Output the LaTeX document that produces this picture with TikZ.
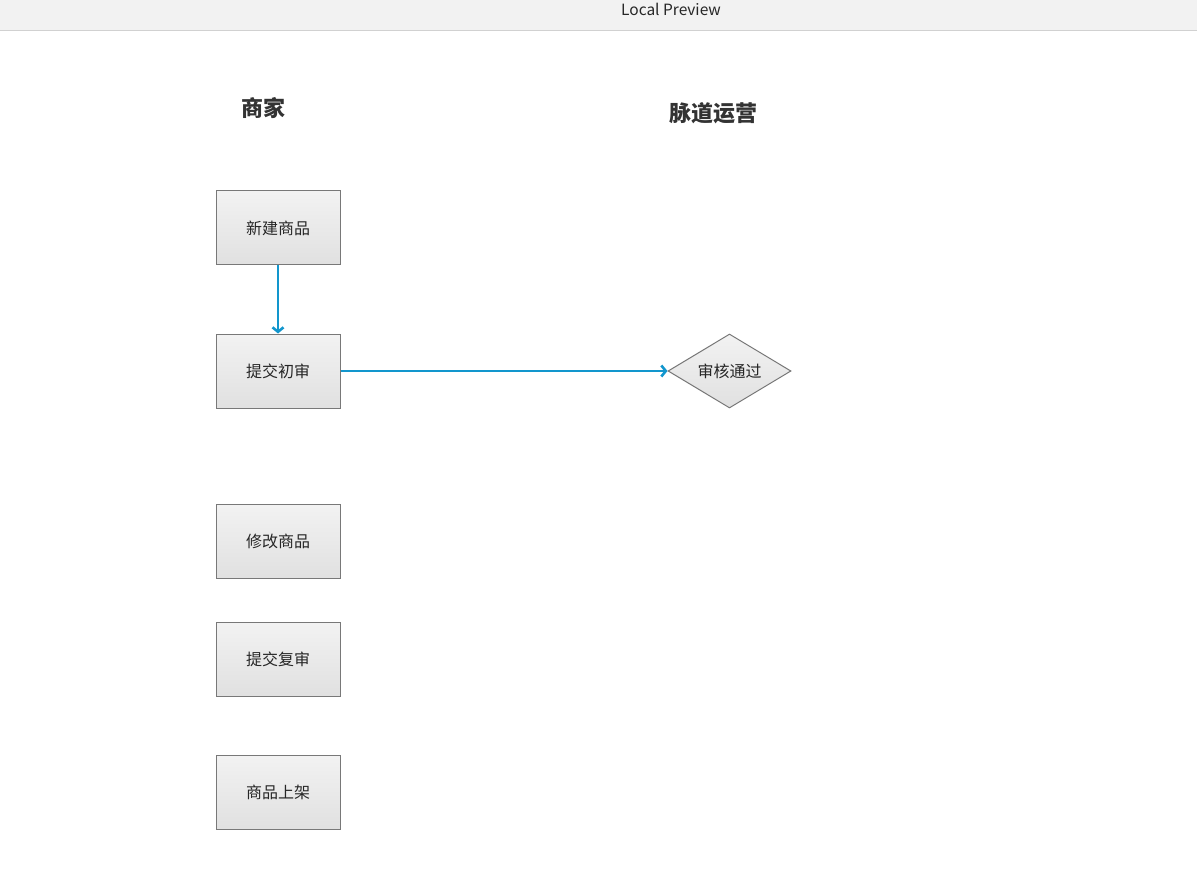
\documentclass[tikz,border=0pt]{standalone}
\usepackage{fontspec}
\setmainfont{Noto Sans CJK SC}
\usetikzlibrary{arrows.meta}
\usetikzlibrary{shapes.geometric}
\definecolor{flecha}{RGB}{18,150,205}
\definecolor{borde}{RGB}{120,120,120}
\definecolor{barra}{RGB}{242,242,242}
\tikzset{
	caja/.style={draw=borde, line width=1pt, minimum width=124pt, minimum height=74pt,
		top color=white!95!black, bottom color=white!88!black, inner sep=0pt,
		font=\fontsize{16pt}{18pt}\selectfont, text=black!85},
	rombo/.style={diamond, draw=borde, line width=1pt, minimum width=123pt, minimum height=74pt,
		aspect=1.66, inner sep=0pt, top color=white!95!black, bottom color=white!88!black,
		font=\fontsize{16pt}{18pt}\selectfont, text=black!85},
	titulo/.style={font=\fontsize{22pt}{24pt}\selectfont\bfseries, text=black!80},
	flujo/.style={draw=flecha, line width=2.6pt, -{Straight Barb[length=4.5pt,width=11pt]}}
}
\begin{document}
\begin{tikzpicture}[x=1pt,y=-1pt]
	\useasboundingbox (0,0) rectangle (1197,869);

% barra superior
	\fill[barra] (0,0) rectangle (1197,30);
	\draw[black!18] (0,30.5) -- (1197,30.5);
	\node[font=\fontsize{15.5pt}{17pt}\selectfont, text=black!85] (barra) at (671,9) {Local Preview};

% carriles
	\node[titulo] (merchant) at (263,108) {商家};
	\node[titulo] (ops) at (713,113) {脉道运营};

% pasos del comerciante
	\foreach \y/\n/\t in {228/nuevo/新建商品, 371/inicial/提交初审, 541/modif/修改商品,
		659/segunda/提交复审, 792/arriba/商品上架}
		\node[caja] (\n) at (278,\y) {\t};

	\node[rombo] (revision) at (729.5,371) {审核通过};

% flechas
	\draw[flujo] (nuevo) -- (inicial);
	\draw[flujo] (inicial) -- (revision);
\end{tikzpicture}
\end{document}
